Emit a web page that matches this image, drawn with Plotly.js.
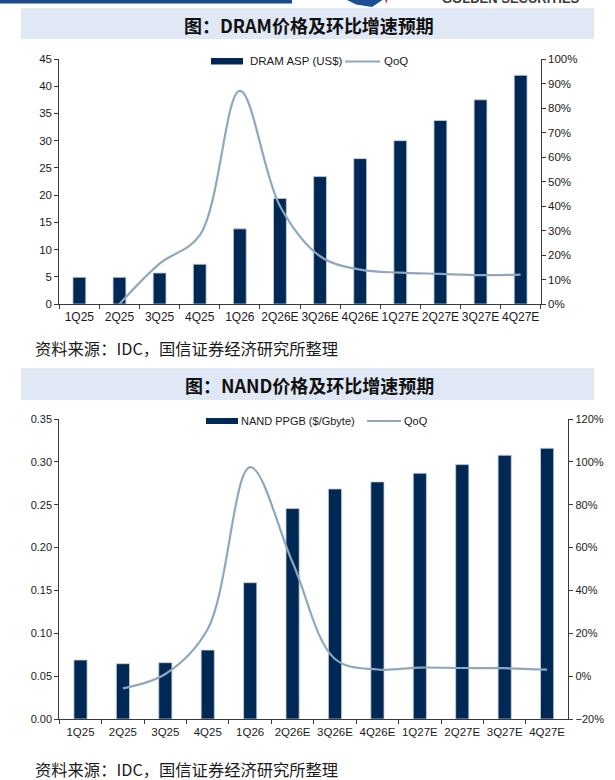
<!DOCTYPE html>
<html>
<head>
<meta charset="utf-8">
<script src="https://cdn.plot.ly/plotly-3.0.1.min.js"></script>
<style>
  html, body { margin: 0; padding: 0; background: #ffffff; }
  #chart { width: 615px; height: 780px; }
</style>
</head>
<body>
<div id="chart"></div>
<script>
// ---------- data ----------
const quarters = ['1Q25','2Q25','3Q25','4Q25','1Q26','2Q26E','3Q26E','4Q26E','1Q27E','2Q27E','3Q27E','4Q27E'];

const dramAsp = [4.9, 4.9, 5.7, 7.3, 13.8, 19.4, 23.4, 26.7, 30.0, 33.7, 37.5, 42.0];
const dramQoq = [null, 0, 16.5, 28, 87, 40, 19.5, 14, 12.8, 12.3, 11.8, 12.0];

const nandPpgb = [0.0688, 0.0645, 0.0657, 0.0804, 0.159, 0.2455, 0.2684, 0.2766, 0.2867, 0.2968, 0.3077, 0.3158];
const nandQoq = [null, -5.7, 1, 22, 97.5, 53, 8, 3.1, 4, 3.8, 3.7, 3.0];

const dramTitle = '图：DRAM价格及环比增速预期';
const nandTitle = '图：NAND价格及环比增速预期';
const sourceNote = '资料来源：IDC，国信证券经济研究所整理';
const dramBarName = 'DRAM ASP (US$)';
const nandBarName = 'NAND PPGB ($/Gbyte)';
const lineName = 'QoQ';
const brandName = 'GOLDEN SECURITIES';

// ---------- styling ----------
const W = 615, H = 780;
const px = x => x / W;
const py = y => 1 - y / H;
const BAR = '#002855';
const LINE = '#8fa7be';
const AXIS = '#3a3a3a';
const TXT = '#1a1a1a';
const FONT = 'Liberation Sans, Arial, sans-serif';
const CJK = 'Noto Sans CJK SC, sans-serif';
const BANNER = '#dfe8f4';

const traces = [
  { type: 'bar', x: quarters, y: dramAsp, xaxis: 'x', yaxis: 'y', name: dramBarName,
    width: 0.32, marker: { color: BAR, line: { color: '#c3d0de', width: 0.8 } } },
  { type: 'scatter', mode: 'lines', x: quarters, y: dramQoq, xaxis: 'x', yaxis: 'y2', name: lineName,
    connectgaps: false, line: { color: LINE, width: 2.2, shape: 'spline', smoothing: 1 } },
  { type: 'bar', x: quarters, y: nandPpgb, xaxis: 'x2', yaxis: 'y3', name: nandBarName,
    width: 0.31, marker: { color: BAR, line: { color: '#c3d0de', width: 0.8 } } },
  { type: 'scatter', mode: 'lines', x: quarters, y: nandQoq, xaxis: 'x2', yaxis: 'y4', name: lineName,
    connectgaps: false, line: { color: LINE, width: 2.2, shape: 'spline', smoothing: 1 } }
];

const yTickF = { family: FONT, size: 11.5, color: TXT };
const xTickF = { family: FONT, size: 12, color: TXT };
const yTickF2 = { family: FONT, size: 11, color: TXT };
const xTickF2 = { family: FONT, size: 11.5, color: TXT };

const baseX = {
  type: 'category', tickson: 'boundaries', ticks: 'outside', ticklen: 4, tickcolor: AXIS,
  showline: true, linecolor: AXIS, linewidth: 1, showgrid: false, zeroline: false,
  range: [-0.5, 11.5], fixedrange: true, tickangle: 0, automargin: false, ticklabelstandoff: 2
};
const baseY = {
  ticks: 'outside', ticklen: 4, tickcolor: AXIS, showline: true, linecolor: AXIS, linewidth: 1,
  showgrid: false, zeroline: false, fixedrange: true, automargin: false
};

const layout = {
  width: W, height: H,
  margin: { l: 0, r: 0, t: 0, b: 0 },
  paper_bgcolor: '#ffffff', plot_bgcolor: 'rgba(0,0,0,0)',
  showlegend: false,
  bargap: 0,
  xaxis: Object.assign({}, baseX, { domain: [px(59.3), px(540.7)], anchor: 'y', tickfont: xTickF }),
  yaxis: Object.assign({}, baseY, { domain: [py(304), py(59)], anchor: 'x', range: [0, 45], dtick: 5, tickfont: yTickF }),
  yaxis2: Object.assign({}, baseY, { overlaying: 'y', side: 'right', anchor: 'x', range: [0, 100], dtick: 10,
    ticksuffix: '%', tickfont: yTickF }),
  xaxis2: Object.assign({}, baseX, { domain: [px(59.3), px(568.3)], anchor: 'y3', tickfont: xTickF2 }),
  yaxis3: Object.assign({}, baseY, { domain: [py(719), py(419)], anchor: 'x2', range: [0, 0.35], dtick: 0.05,
    tickformat: '.2f', tickfont: yTickF2 }),
  yaxis4: Object.assign({}, baseY, { overlaying: 'y3', side: 'right', anchor: 'x2', range: [-20, 120], dtick: 20,
    ticksuffix: '%', tickfont: yTickF2 }),
  shapes: [
    // header band
    { type: 'rect', xref: 'paper', yref: 'paper', x0: 0, x1: px(292), y0: py(3.5), y1: py(-1),
      fillcolor: '#1c4a8a', line: { width: 0 }, layer: 'below' },
    // logo fragment
    { type: 'path', xref: 'paper', yref: 'paper',
      path: `M ${px(345)} ${py(-1)} L ${px(384)} ${py(-1)} L ${px(372)} ${py(7)} L ${px(356)} ${py(4.5)} Z`,
      fillcolor: '#1e4f94', line: { width: 0 } },
    { type: 'path', xref: 'paper', yref: 'paper',
      path: `M ${px(385)} ${py(-1)} L ${px(388)} ${py(-1)} L ${px(386)} ${py(4)} Z`,
      fillcolor: '#d9363e', line: { width: 0 } },
    // title banners
    { type: 'rect', xref: 'paper', yref: 'paper', x0: px(21), x1: px(594), y0: py(39), y1: py(8.3),
      fillcolor: BANNER, line: { width: 0 }, layer: 'below' },
    { type: 'rect', xref: 'paper', yref: 'paper', x0: px(21), x1: px(594), y0: py(400), y1: py(368.3),
      fillcolor: BANNER, line: { width: 0 }, layer: 'below' },
    // custom legends
    { type: 'rect', xref: 'paper', yref: 'paper', x0: px(211), x1: px(243), y0: py(64.5), y1: py(58),
      fillcolor: BAR, line: { width: 0 } },
    { type: 'line', xref: 'paper', yref: 'paper', x0: px(345), x1: px(380), y0: py(61.5), y1: py(61.5),
      line: { color: LINE, width: 2 } },
    { type: 'rect', xref: 'paper', yref: 'paper', x0: px(206), x1: px(238), y0: py(424), y1: py(418),
      fillcolor: BAR, line: { width: 0 } },
    { type: 'line', xref: 'paper', yref: 'paper', x0: px(367), x1: px(401), y0: py(421), y1: py(421),
      line: { color: LINE, width: 2 } }
  ],
  annotations: [
    { text: brandName, xref: 'paper', yref: 'paper', x: px(440), y: py(8), xanchor: 'left', yanchor: 'bottom',
      showarrow: false, font: { family: FONT, size: 13, color: '#3a3a3a', weight: 'bold' } },
    { text: dramTitle, xref: 'paper', yref: 'paper', x: px(309), y: py(25), xanchor: 'center', yanchor: 'middle',
      showarrow: false, font: { family: CJK, size: 18, color: '#111111', weight: 'bold' } },
    { text: nandTitle, xref: 'paper', yref: 'paper', x: px(309), y: py(385), xanchor: 'center', yanchor: 'middle',
      showarrow: false, font: { family: CJK, size: 18, color: '#111111', weight: 'bold' } },
    { text: sourceNote, xref: 'paper', yref: 'paper', x: px(33), y: py(348), xanchor: 'left', yanchor: 'middle',
      showarrow: false, font: { family: CJK, size: 16.3, color: TXT } },
    { text: sourceNote, xref: 'paper', yref: 'paper', x: px(33), y: py(769), xanchor: 'left', yanchor: 'middle',
      showarrow: false, font: { family: CJK, size: 16.3, color: TXT } },
    { text: dramBarName, xref: 'paper', yref: 'paper', x: px(248), y: py(61.5), xanchor: 'left', yanchor: 'middle',
      showarrow: false, font: { family: FONT, size: 11.5, color: TXT } },
    { text: lineName, xref: 'paper', yref: 'paper', x: px(382), y: py(61.5), xanchor: 'left', yanchor: 'middle',
      showarrow: false, font: { family: FONT, size: 11.5, color: TXT } },
    { text: nandBarName, xref: 'paper', yref: 'paper', x: px(239), y: py(421), xanchor: 'left', yanchor: 'middle',
      showarrow: false, font: { family: FONT, size: 11, color: TXT } },
    { text: lineName, xref: 'paper', yref: 'paper', x: px(402), y: py(421), xanchor: 'left', yanchor: 'middle',
      showarrow: false, font: { family: FONT, size: 11, color: TXT } }
  ]
};

Plotly.newPlot('chart', traces, layout, { staticPlot: true, displayModeBar: false });
</script>
</body>
</html>
